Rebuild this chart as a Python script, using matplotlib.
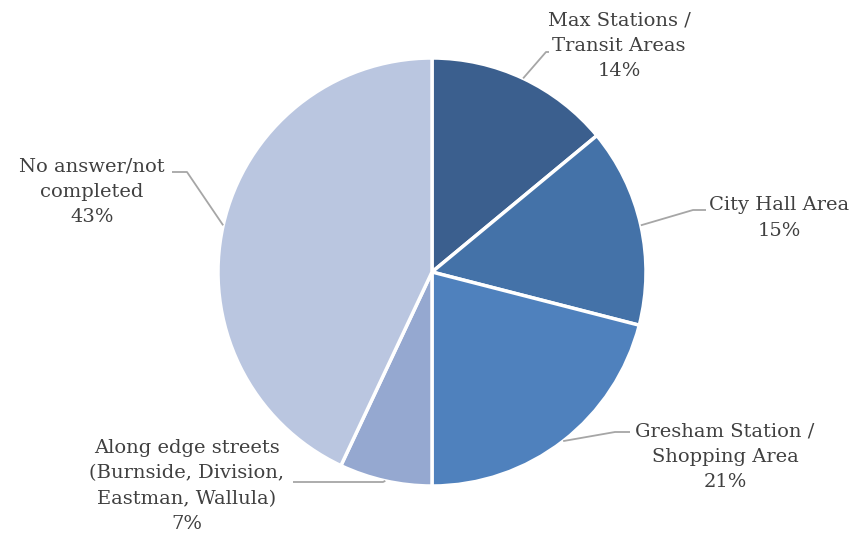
import numpy as np
import matplotlib
matplotlib.use("Agg")
import matplotlib.pyplot as plt

labels = ["Max Stations /\nTransit Areas", "City Hall Area", "Gresham Station /\nShopping Area",
          "Along edge streets\n(Burnside, Division,\nEastman, Wallula)", "No answer/not\ncompleted"]
shares = [14, 15, 21, 7, 43]
colors = ["#3B5F8E", "#4472A8", "#4F81BD", "#95A8D0", "#BAC6E0"]

# label centres and leader elbows, in pixel coords (y down)
text_pos = [(619, 46), (779, 218), (725, 457), (187, 486), (92, 192)]
elbows = [[(546, 52), (549, 52)], [(693, 210), (706, 210)], [(615, 432), (630, 432)],
          [(383, 482), (293, 482)], [(187, 172), (172, 172)]]

plt.rcParams['font.family'] = ['DejaVu Serif']

W, H = 853, 543
fig = plt.figure(figsize=(W / 100, H / 100), dpi=100)
ax = fig.add_axes([0, 0, 1, 1])

cx, cy, r = 432, -272, 214
wedges, _ = ax.pie(shares, colors=colors, startangle=90, counterclock=False,
                   center=(cx, cy), radius=r, frame=True,
                   wedgeprops=dict(edgecolor='white', linewidth=2.5))
ax.set_xlim(0, W)
ax.set_ylim(-H, 0)
ax.set_aspect('equal')
ax.axis('off')

for w, lab, val, tp, el in zip(wedges, labels, shares, text_pos, elbows):
    mid = np.deg2rad((w.theta1 + w.theta2) / 2)
    sx, sy = cx + r * np.cos(mid), cy + r * np.sin(mid)
    xs = [sx] + [p[0] for p in el]
    ys = [sy] + [-p[1] for p in el]
    ax.plot(xs, ys, color='#A6A6A6', lw=1.3, solid_capstyle='butt')
    ax.text(tp[0], -tp[1], f"{lab}\n{val}%", ha='center', va='center',
            fontsize=14, color='#404040', linespacing=1.52)

fig.savefig("out.png", dpi=100)
